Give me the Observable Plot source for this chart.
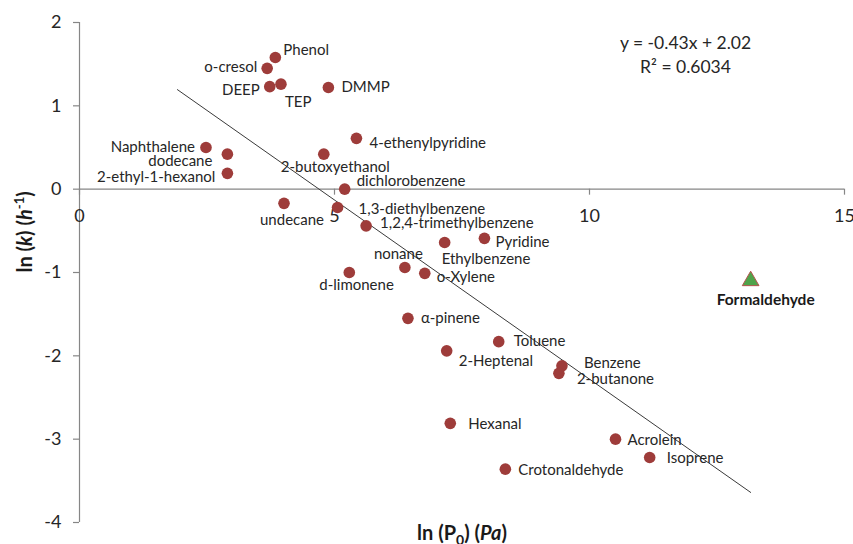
<!DOCTYPE html>
<html><head><meta charset="utf-8">
<script src="https://cdn.jsdelivr.net/npm/d3@7"></script>
<script src="https://cdn.jsdelivr.net/npm/@observablehq/plot@0.6"></script>
<style>body{margin:0;background:#fff;} svg{display:block;}</style>
</head><body><div id="chart"></div>
<script>
// ---- data ----
const compounds = ["Phenol","o-cresol","DEEP","TEP","DMMP","4-ethenylpyridine","2-butoxyethanol","dichlorobenzene","Naphthalene","dodecane","2-ethyl-1-hexanol","undecane","1,3-diethylbenzene","1,2,4-trimethylbenzene","Ethylbenzene","Pyridine","nonane","o-Xylene","d-limonene","α-pinene","Toluene","2-Heptenal","Benzene","2-butanone","Hexanal","Crotonaldehyde","Acrolein","Isoprene"];
const lnP0 = [3.84,3.68,3.73,3.95,4.88,5.43,4.79,5.20,2.48,2.90,2.90,4.01,5.06,5.62,7.16,7.94,6.38,6.77,5.29,6.44,8.22,7.20,9.46,9.40,7.27,8.35,10.51,11.18];
const lnK  = [1.58,1.45,1.23,1.26,1.22,0.61,0.42,0.00,0.50,0.42,0.19,-0.17,-0.22,-0.44,-0.64,-0.59,-0.94,-1.01,-1.00,-1.55,-1.83,-1.94,-2.12,-2.21,-2.81,-3.36,-3.00,-3.22];
const outlierName = ["Formaldehyde"];
const outlierLnP0 = [13.16];
const outlierLnK = [-1.10];
const trendSlope = -0.43;
const trendIntercept = 2.02;
const trendXRange = [1.92, 13.16];
const equationText = "y = -0.43x + 2.02\nR² = 0.6034";
const xTicks = [0, 5, 10, 15];
const xTickLabels = ["0", "5", "10", "15"];
const yTicks = [2, 1, 0, -1, -2, -3, -4];
const yTickLabels = ["2", "1", "0", "-1", "-2", "-3", "-4"];

// ---- label layout (anchor, dx, dy in px) ----
const labelLayout = {
  "Phenol": ["start", 8, -7], "o-cresol": ["end", -10, -1], "DEEP": ["end", -10, 4],
  "TEP": ["start", 4, 18], "DMMP": ["start", 13, 0], "4-ethenylpyridine": ["start", 13, 5],
  "2-butoxyethanol": ["start", -43, 13], "dichlorobenzene": ["start", 12, -8],
  "Naphthalene": ["end", -11, 0], "dodecane": ["end", -15, 7], "2-ethyl-1-hexanol": ["end", -12, 4],
  "undecane": ["start", -24, 17], "1,3-diethylbenzene": ["start", 21, 2],
  "1,2,4-trimethylbenzene": ["start", 14, -3], "Ethylbenzene": ["start", -3, 17],
  "Pyridine": ["start", 11, 4], "nonane": ["start", -31, -13], "o-Xylene": ["start", 12, 4],
  "d-limonene": ["start", -30, 13], "α-pinene": ["start", 13, 0], "Toluene": ["start", 15, 0],
  "2-Heptenal": ["start", 12, 10], "Benzene": ["start", 22, -3], "2-butanone": ["start", 18, 6],
  "Hexanal": ["start", 18, 1], "Crotonaldehyde": ["start", 13, 1], "Acrolein": ["start", 12, 1],
  "Isoprene": ["start", 17, 1]
};

const points = compounds.map((name, i) => ({name, x: lnP0[i], y: lnK[i]}));
const outliers = outlierName.map((name, i) => ({name, x: outlierLnP0[i], y: outlierLnK[i]}));
const trend = trendXRange.map(x => ({x, y: trendSlope * x + trendIntercept}));

const FONT = "Lato, 'Open Sans', sans-serif";
const axisColor = "#868686";
const textColor = "#262626";

const labelMarks = points.map(d => {
  const [anchor, dx, dy] = labelLayout[d.name];
  return Plot.text([d], {x: "x", y: "y", text: "name", textAnchor: anchor, dx, dy,
    lineAnchor: "middle", fontSize: 15, fill: textColor});
});

const chart = Plot.plot({
  width: 853, height: 544,
  marginTop: 22, marginRight: 9, marginBottom: 22, marginLeft: 79,
  style: {fontFamily: FONT, background: "#fff"},
  x: {domain: [0, 15], axis: null},
  y: {domain: [-4, 2], axis: null},
  marks: [
    // y axis
    Plot.ruleX([0], {y1: -4, y2: 2, stroke: axisColor, strokeWidth: 1.2}),
    Plot.ruleY(yTicks, {x1: 0, x2: 0, y: d => d, insetLeft: -6, stroke: axisColor, strokeWidth: 1.2}),
    Plot.text(yTicks, {x: 0, y: d => d, text: (d, i) => yTickLabels[i], textAnchor: "end", dx: -18, lineAnchor: "middle", fontSize: 18, fill: textColor}),
    // x axis along y = 0
    Plot.ruleY([0], {x1: 0, x2: 15, stroke: axisColor, strokeWidth: 1.2}),
    Plot.ruleX(xTicks, {x: d => d, y1: 0, y2: 0, insetBottom: -6, stroke: axisColor, strokeWidth: 1.2}),
    Plot.text(xTicks, {x: d => d, y: 0, text: (d, i) => xTickLabels[i], dy: 27, lineAnchor: "middle", fontSize: 18, fill: textColor}),
    // trend line
    Plot.line(trend, {x: "x", y: "y", stroke: "#3a3a3a", strokeWidth: 1}),
    // points
    Plot.dot(points, {x: "x", y: "y", r: 5.8, fill: "#9E3C3A", stroke: "none"}),
    ...labelMarks,
    Plot.dot(outliers, {x: "x", y: "y", symbol: "triangle", r: 6.2, fill: "#4FA34A", stroke: "#B5534E", strokeWidth: 1}),
    Plot.text(outliers, {x: "x", y: "y", text: "name", dx: 15, dy: 19, lineAnchor: "middle", fontSize: 15.5, fontWeight: "bold", fill: "#1a1a1a"}),
    // equation
    Plot.text([equationText], {frameAnchor: "top-right", dx: -159, dy: 31, textAnchor: "middle", lineAnchor: "middle", lineHeight: 1.35, fontSize: 17.5, fill: textColor}),
    // axis titles
    Plot.text(["ln (P0) (Pa)"], {frameAnchor: "bottom", dy: 11, lineAnchor: "middle", fontSize: 20, fontWeight: "bold", fill: "#1a1a1a"}),
    Plot.text(["ln (k) (h-1)"], {frameAnchor: "left", dx: -54, rotate: -90, lineAnchor: "middle", fontSize: 20, fontWeight: "bold", fill: "#1a1a1a"})
  ]
});

// rich text for the axis titles (sub/superscripts, italics)
d3.select(chart).selectAll("text").each(function() {
  const t = this.textContent;
  if (t === "ln (P0) (Pa)") {
    this.innerHTML = 'ln (P<tspan dy="5" font-size="14">0</tspan><tspan dy="-5">) (</tspan><tspan font-style="italic">Pa</tspan>)';
  } else if (t === "ln (k) (h-1)") {
    this.innerHTML = 'ln (<tspan font-style="italic">k</tspan>) (<tspan font-style="italic">h</tspan><tspan dy="-8" font-size="13">-1</tspan><tspan dy="8">)</tspan>';
  }
});

document.getElementById("chart").appendChild(chart);
</script>
</body></html>
